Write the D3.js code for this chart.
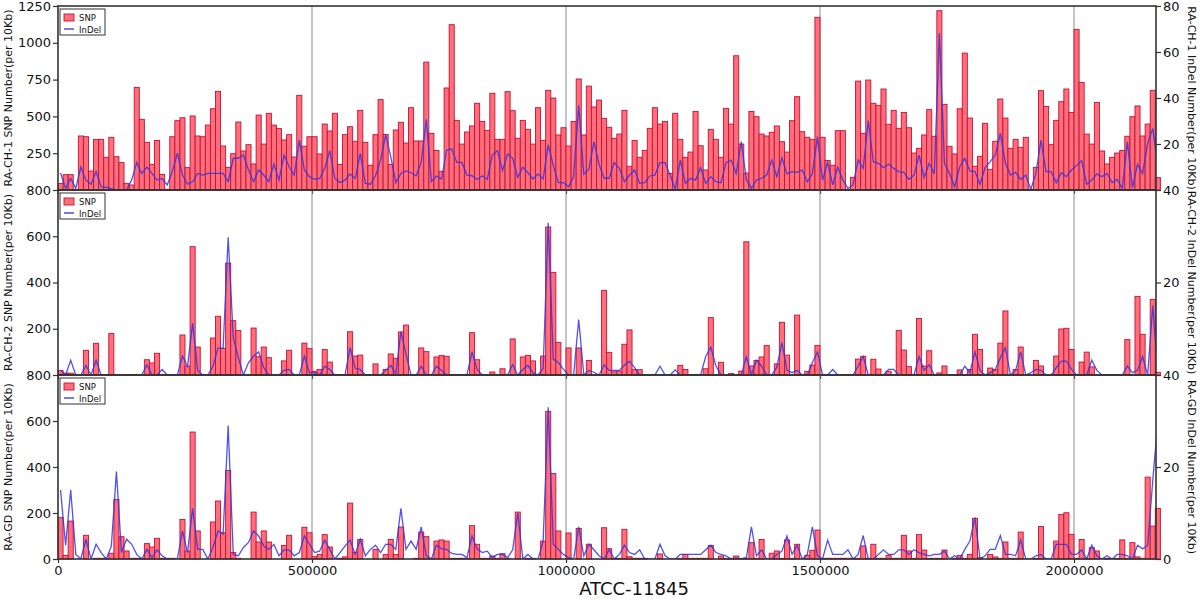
<!DOCTYPE html>
<html>
<head>
<meta charset="utf-8">
<script src="https://cdn.jsdelivr.net/npm/d3@7"></script>
<style>
  body { margin: 0; background: #fff; }
  svg { display: block; font-family: "DejaVu Sans", sans-serif; }
</style>
</head>
<body>
<svg id="chart" width="1200" height="599"></svg>
<script>
// bins of 10Kb along the ATCC-11845 genome
const binSize = 10000
const genomeLength = 2161400
const xTicks = [0, 500000, 1000000, 1500000, 2000000]

// RA-CH-1
const ch1Snp = [
  45,104,104,3,367,362,129,344,344,222,
  358,226,186,45,34,697,480,324,174,337,
  106,5,362,471,491,152,503,367,362,441,
  552,670,299,154,247,462,265,308,177,509,
  312,521,441,417,340,376,224,643,297,362,
  362,245,448,401,521,174,376,430,331,541,
  324,168,376,614,378,174,408,460,319,559,
  333,333,869,385,269,127,693,1123,473,312,
  394,435,589,466,405,657,344,344,668,539,
  351,473,412,312,559,337,677,625,374,423,
  299,466,754,374,706,564,611,487,426,351,
  380,541,161,337,222,269,419,559,448,466,
  113,521,344,222,258,534,301,136,412,344,
  222,555,448,912,312,115,534,498,380,367,
  392,435,328,258,471,634,396,358,344,1173,
  358,201,168,403,403,5,86,740,385,747,
  589,575,686,446,541,419,527,423,251,283,
  374,546,365,1218,582,297,245,552,930,489,
  161,229,453,140,331,618,489,283,344,290,
  358,5,154,675,568,308,473,600,686,527,
  1091,731,380,312,595,265,177,222,251,269,
  365,498,571,367,448,677,84]
const ch1Indel = [
  7.4,0.7,5,0.7,10,4.3,2.5,8,1.4,1.2,
  0.6,0,0,0,4.3,12,7.2,10,7.2,4.3,
  5,2.2,8,16,6.5,2.5,3.6,7.2,6.5,7.2,
  7.2,7.2,7.2,3.6,13.8,13.8,15.2,8.7,3.6,8.7,
  6.5,3.6,11.3,4.3,15.2,10.1,6.5,21.7,8.7,5.8,
  4.6,5,9.4,17.1,5,3.3,4.3,7,5,15.9,
  2.9,2.5,6.2,13,24,14.5,3.2,7.2,8.3,7.5,
  6.2,12,30.7,3.6,6.1,4.8,17.4,17.8,12,12,
  6.5,6.2,4.6,6.2,4.6,15.2,17.1,8.4,15.6,13.8,
  5.5,9.9,7.5,4.8,7,4.8,19.6,10.6,3.2,3.2,
  1.4,5.8,36.8,6.8,9,21,11.2,5.1,5.1,11.9,
  9.4,3.6,6.5,8.7,2.9,3.2,6.1,6.5,11.9,11.9,
  6.5,0.3,13,2.9,5.1,4.3,9.7,2.9,5.8,3.6,
  3.2,11.9,13,7.2,21,4.6,0.7,4.3,5.1,6.5,
  13,5.8,14,7,8,7.7,8.7,3.6,7.2,23.2,
  4.3,11.9,2.2,9.9,4.3,0.7,2.2,13,9.4,30.1,
  12.3,11.6,9.7,11.3,9.4,8,7.7,4.6,6.5,15.2,
  5.5,11.6,7,68.1,11.6,7.2,1.4,10.1,13.8,8.3,
  8,2.5,9.7,12.3,15.2,24.6,11.6,6.5,7.7,4.6,
  6.5,0.3,7.2,21.7,8,8,3.2,7.5,5.8,8.7,
  10.6,12.8,2.5,4.3,7,5.8,7.2,3.2,4.6,0.7,
  21,1,11.2,7.2,20.3,26.8,10]

// RA-CH-2
const ch2Snp = [
  20,8,8,0,0,107,0,137,0,0,
  180,0,0,0,0,0,0,66,52,94,
  0,0,0,0,173,39,555,121,0,0,
  160,254,115,484,235,192,0,0,203,79,
  121,75,0,0,61,107,0,0,138,114,
  16,24,110,56,0,0,0,187,82,86,
  0,0,48,0,24,91,72,186,216,0,
  0,117,101,0,78,84,81,0,0,0,
  0,183,66,0,0,13,0,27,0,156,
  0,78,85,61,0,82,640,444,141,0,
  117,0,117,0,63,0,0,366,98,14,
  17,133,195,23,23,0,0,0,0,0,
  0,0,42,24,0,0,0,27,248,0,
  55,0,6,0,17,576,39,63,78,128,
  0,48,228,86,0,259,0,16,43,128,
  0,0,0,0,0,0,0,69,81,0,
  68,26,0,16,0,193,108,36,0,244,
  39,105,0,9,39,0,0,22,0,24,
  176,110,0,30,23,138,277,0,24,121,
  0,0,63,39,0,0,82,199,202,110,
  0,56,99,35,0,0,0,0,0,0,
  153,0,340,176,0,327,12]
const ch2Indel = [
  1,0,3.2,0,0,2.1,0,3.2,0,0,
  0,0,0,0,0,0,0,2.2,0,0,
  1.2,0,0,0,4.1,1.9,11.2,1,0,0,
  1.9,5.8,5.8,29.8,8.1,3.7,0,2.7,4.1,5,
  1.6,0,0,0,1,1.2,0,0,4.1,0.5,
  0.5,0,1.9,1.2,0,0,0,5.9,1.4,1.2,
  0,0,0,0,1,2.1,0.3,9.4,4.5,0,
  0,1.9,0,0,1.9,1,0,0,0,0,
  0,5,1.2,0,0,0,0,0,0,2.2,
  0,1.2,2.1,0.5,0,1.4,32.9,3.4,2.7,1.2,
  0,0,12,0,1,0.6,0,2.2,1,1,
  1,2.1,3,1.6,0,0,0,0,1.9,0,
  0,1.1,0,0,0,0,0,4,6,2,
  0,0,0,0,0,3.9,0.1,3.2,1.9,0,
  0,1.7,7,1,0.5,1,0,0,2.7,5,
  0,0,1.2,0,0,0,0,1.9,4,0,
  0,0,0,1.2,1.2,0,0,0,0,4,
  1,2.2,0,0,0,0,0,0,1.9,0.5,
  5,1,0,0.5,1.2,3.7,5.9,0,1,5,
  0,0.5,1.2,1,0,0,1.6,3,3,1.2,
  0,0,0,3.2,1,0,0,0,0,0,
  1.9,0.5,1,4,0,15,0.5]

// RA-GD
const gdSnp = [
  180,16,165,0,0,103,0,3,3,3,
  25,259,97,35,3,3,3,67,52,90,
  3,3,3,0,172,35,552,122,0,0,
  161,252,114,385,28,3,0,0,204,74,
  122,74,0,0,59,103,0,0,138,114,
  10,20,106,52,0,3,9,243,29,85,
  0,0,42,0,19,85,19,139,0,0,
  3,117,97,3,78,83,78,3,3,3,
  3,145,64,3,3,13,3,23,3,0,
  204,0,3,3,0,78,642,372,122,0,
  113,0,133,0,64,0,0,136,45,3,
  3,129,10,3,3,3,0,0,22,0,
  0,0,3,20,3,3,3,3,59,0,
  13,3,3,13,3,3,71,3,85,0,
  25,35,3,83,3,64,0,16,38,126,
  3,3,3,3,3,3,3,3,57,3,
  64,3,3,16,3,3,103,35,3,106,
  39,3,3,3,39,0,3,16,3,20,
  177,6,0,20,9,3,74,3,3,117,
  0,0,3,141,0,0,78,194,201,107,
  3,85,3,49,35,0,3,0,3,83,
  3,71,9,3,356,143,220]
const gdIndel = [
  15,3,15,1,0,4.3,0,3.2,1.4,0,
  2.8,19,1.4,4.3,3.2,1,0,2.1,0.3,2,
  0.7,0,0,0,6.1,1.4,11,2.1,2.1,0,
  2.5,6.1,5.4,29,1,0.7,2.5,3.6,6.1,5,
  2.8,2.1,3.2,0.7,2,2,0.7,1.4,5,3.2,
  1.4,1.7,4.1,2.1,0,1.4,2.8,4.1,1,4.3,
  0.7,2.1,3,1.4,3.2,3.2,2.1,11,2.1,3.9,
  2.1,7,0.7,0,3,2.2,2.1,1.2,1,1,
  0.3,5,2.2,1.4,1.7,0.3,1,1,0.3,2,
  10,0,1,0,0,3.9,33,3.2,2.1,1,
  0.3,0,7,0.7,3.2,2,0.7,0,2.1,0,
  1,3,1.4,1,2,0,0,0,3.2,0.7,
  0,0,1,1,1,1,1,2,3,1.4,
  1,0.7,0,0.2,0,0.3,7,0.7,2,0,
  0,1,1.7,5,1,3,0,1,7,0.7,
  0,4.1,1,1,1,2,0,1,5.1,0,
  0,1,2,1,1,2,2,1,2,1.4,
  1,0.7,1,1,1.7,0,0.7,0,2.1,3.9,
  9,0,0.7,2.1,2.1,5.1,1,1,0.7,4.1,
  0,0,0.7,1,0,0,3.2,3.2,3.2,1,
  1,2,0,3,0.7,0,0.7,0,1,1,
  0.7,0,3,2.2,3,17,30]

const snpLabels = ["RA-CH-1 SNP Number(per 10Kb)", "RA-CH-2 SNP Number(per 10Kb)", "RA-GD SNP Number(per 10Kb)"]
const indelLabels = ["RA-CH-1 InDel Number(per 10Kb)", "RA-CH-2 InDel Number(per 10Kb)", "RA-GD InDel Number(per 10Kb)"]
const snpTicks = [[250, 500, 750, 1000, 1250], [200, 400, 600, 800], [0, 200, 400, 600, 800]]
const indelTicks = [[20, 40, 60, 80], [20, 40], [0, 20, 40]]
const xTitle = "ATCC-11845"

const left = 58, right = 1156
const barFill = "#ff6e79", barStroke = "#c3103a", lineColor = "#3232e6", frameColor = "#333"

// panels stacked top to bottom
const panels = [
  {snp: ch1Snp, indel: ch1Indel, snpMax: 1250, indelMax: 80, top: 6, bottom: 190},
  {snp: ch2Snp, indel: ch2Indel, snpMax: 800, indelMax: 40, top: 190, bottom: 375},
  {snp: gdSnp, indel: gdIndel, snpMax: 800, indelMax: 40, top: 375, bottom: 559}
]

const svg = d3.select("#chart")

let x = d3.scaleLinear().domain([0, genomeLength]).range([left, right])
const barW = x(binSize) - x(0)
const fmt = d3.format("d")

panels.forEach(function(p, k){
  let yL = d3.scaleLinear().domain([0, p.snpMax]).range([p.bottom, p.top])
  let yR = d3.scaleLinear().domain([0, p.indelMax]).range([p.bottom, p.top])
  let g = svg.append("g")

  g.append("clipPath").attr("id", "clip" + k)
    .append("rect").attr("x", left).attr("y", p.top).attr("width", right - left).attr("height", p.bottom - p.top)

  //vertical grid
  g.selectAll(".grid").data(xTicks.slice(1)).enter().append("line")
    .attr("x1", d => x(d)).attr("x2", d => x(d))
    .attr("y1", p.top).attr("y2", p.bottom)
    .attr("stroke", "#8a8a8a").attr("stroke-width", 1)

  //SNP bars (keep bin index, skip empty bins)
  let bins = p.snp.map((v, i) => ({start: i * binSize, v: v})).filter(d => d.v > 0)
  g.selectAll(".bar").data(bins).enter().append("rect")
    .attr("x", d => x(d.start))
    .attr("width", barW)
    .attr("y", d => yL(d.v))
    .attr("height", d => p.bottom - yL(d.v))
    .attr("fill", barFill)
    .attr("stroke", barStroke)
    .attr("stroke-width", 0.9)

  //InDel line at bin centres
  let line = d3.line()
    .x((d, i) => x(i * binSize + binSize / 2))
    .y(d => yR(d))
  g.append("path").datum(p.indel)
    .attr("d", line)
    .attr("fill", "none")
    .attr("stroke", lineColor)
    .attr("stroke-opacity", 0.85)
    .attr("stroke-width", 1.3)
    .attr("clip-path", "url(#clip" + k + ")")

  //frame
  g.append("rect").attr("x", left).attr("y", p.top)
    .attr("width", right - left).attr("height", p.bottom - p.top)
    .attr("fill", "none").attr("stroke", frameColor).attr("stroke-width", 1.6)

  //axes
  let axL = g.append("g").attr("transform", "translate(" + left + ",0)")
    .call(d3.axisLeft(yL).tickValues(snpTicks[k]).tickSize(5).tickPadding(2).tickFormat(fmt))
  let axR = g.append("g").attr("transform", "translate(" + right + ",0)")
    .call(d3.axisRight(yR).tickValues(indelTicks[k]).tickSize(5).tickPadding(2).tickFormat(fmt))
  let axB = g.append("g").attr("transform", "translate(0," + p.bottom + ")")
    .call(d3.axisBottom(x).tickValues(xTicks).tickSize(4).tickPadding(3)
      .tickFormat(k === 2 ? fmt : ""))
  ;[axL, axR, axB].forEach(function(a){
    a.select(".domain").remove()
    a.selectAll("line").attr("stroke", frameColor).attr("stroke-width", 1.2)
    a.selectAll("text").attr("fill", "#111").style("font-family", "DejaVu Sans").style("font-size", "13px")
  })

  //axis titles
  let cy = (p.top + p.bottom) / 2
  g.append("text").attr("transform", "translate(12," + cy + ") rotate(-90)")
    .attr("text-anchor", "middle").attr("font-size", 11).attr("fill", "#111")
    .text(snpLabels[k])
  g.append("text").attr("transform", "translate(1188," + cy + ") rotate(90)")
    .attr("text-anchor", "middle").attr("font-size", 11).attr("fill", "#111")
    .text(indelLabels[k])

  //legend
  let lg = g.append("g").attr("transform", "translate(" + (left + 2) + "," + (p.top + 3) + ")")
  lg.append("rect").attr("width", 45).attr("height", 26)
    .attr("fill", "#fff").attr("stroke", frameColor).attr("stroke-width", 1)
  lg.append("rect").attr("x", 4).attr("y", 5).attr("width", 10).attr("height", 7)
    .attr("fill", barFill).attr("stroke", barStroke).attr("stroke-width", 0.9)
  lg.append("text").attr("x", 19).attr("y", 11.8).attr("font-size", 8.5).attr("fill", "#111").text("SNP")
  lg.append("line").attr("x1", 4).attr("x2", 14).attr("y1", 20).attr("y2", 20)
    .attr("stroke", lineColor).attr("stroke-width", 1.3)
  lg.append("text").attr("x", 19).attr("y", 23.5).attr("font-size", 8.5).attr("fill", "#111").text("InDel")
})

svg.append("text").attr("x", 634).attr("y", 595)
  .attr("text-anchor", "middle").attr("font-size", 18).attr("fill", "#111")
  .text(xTitle)
</script>
</body>
</html>
